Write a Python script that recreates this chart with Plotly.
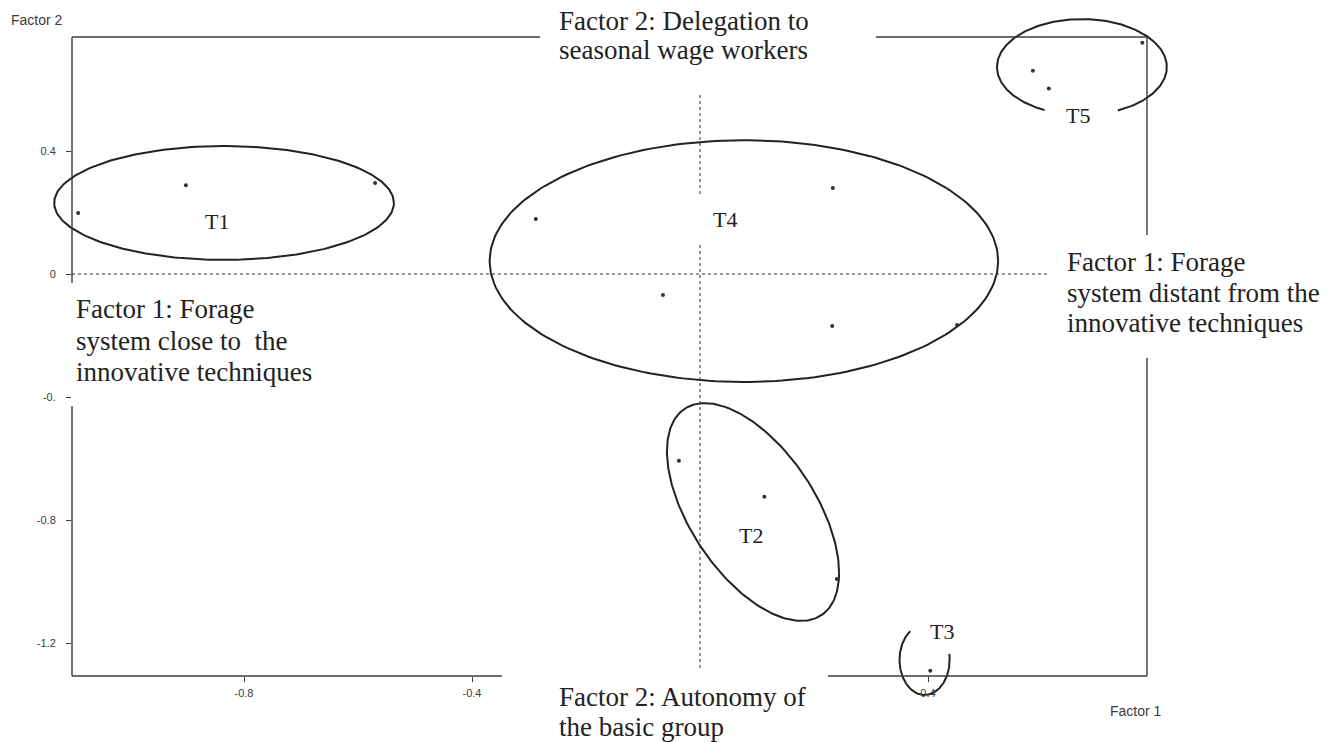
import numpy as np
import plotly.graph_objects as go

# factor scores of the farms (Factor 1, Factor 2), one pair of lists per type
t1_f1 = [-1.091, -0.902, -0.570]
t1_f2 = [0.198, 0.289, 0.296]
t2_f1 = [-0.037, 0.113, 0.240]
t2_f2 = [-0.607, -0.724, -0.992]
t3_f1 = [0.404]
t3_f2 = [-1.290]
t4_f1 = [-0.288, 0.233, -0.065, 0.232, 0.451]
t4_f2 = [0.179, 0.280, -0.068, -0.169, -0.166]
t5_f1 = [0.584, 0.612, 0.776]
t5_f2 = [0.661, 0.603, 0.752]

types = ["T1", "T2", "T3", "T4", "T5"]

# hand drawn envelopes round each type (centre, half widths, skew, arc in degrees)
env_cx = [-0.835, 0.093, 0.394, 0.077, 0.670]
env_cy = [0.231, -0.774, -1.255, 0.042, 0.673]
env_rx = [0.298, 0.151, 0.044, 0.446, 0.149]
env_ry = [0.185, 0.354, 0.114, 0.393, 0.156]
env_skew = [0, -34, 0, 0, 0]
env_from = [0, 0, 125, 0, -65]
env_to = [360, 360, 370, 360, 244]

# where the type names sit
label_f1 = [-0.847, 0.089, 0.425, 0.044, 0.663]
label_f2 = [0.172, -0.849, -1.161, 0.176, 0.514]

x_ticks = [-0.8, -0.4, 0.4]
x_ticktext = ["-0.8", "-0.4", "0.4"]
y_ticks = [0.4, 0, -0.4, -0.8, -1.2]
y_ticktext = ["0.4", "0", "-0.", "-0.8", "-1.2"]

top_caption = ["Factor 2: Delegation to", "seasonal wage workers"]
bottom_caption = ["Factor 2: Autonomy of", "the basic group"]
left_caption = ["Factor 1: Forage", "system close to  the", "innovative techniques"]
right_caption = ["Factor 1: Forage", "system distant from the", "innovative techniques"]

W, H = 1331, 742
X0_PX, X_SCALE = 700, 570      # pixel of Factor 1 = 0, pixels per unit
Y0_PX, Y_SCALE = 274, 307.5
LEFT, TOP, RIGHT, BOTTOM = 72, 37, 1147, 676

INK = "#222222"
AXIS = "#3c3c3c"
SERIF = "Liberation Serif, Times New Roman, serif"
SANS = "Liberation Sans, Arial, sans-serif"


def px_x(px):
    return (px - X0_PX) / X_SCALE


def px_y(py):
    return (Y0_PX - py) / Y_SCALE


def paper(px, py):
    return px / W, 1 - py / H


fig = go.Figure()

# envelopes on a full-page subplot so they can run past the frame
for i, t in enumerate(types):
    a = np.radians(np.linspace(env_from[i], env_to[i], 240))
    ex = env_cx[i] + env_rx[i] * np.cos(a)
    ey = env_cy[i] + env_ry[i] * np.sin(a + np.radians(env_skew[i]))
    fig.add_trace(go.Scatter(x=ex, y=ey, mode="lines", xaxis="x", yaxis="y",
                             line=dict(color=INK, width=2), hoverinfo="skip",
                             showlegend=False))

pts = [(t1_f1, t1_f2), (t2_f1, t2_f2), (t3_f1, t3_f2), (t4_f1, t4_f2), (t5_f1, t5_f2)]
for t, (fx, fy) in zip(types, pts):
    fig.add_trace(go.Scatter(x=fx, y=fy, mode="markers", name=t, xaxis="x2", yaxis="y2",
                             marker=dict(color="#333333", size=4), cliponaxis=False,
                             showlegend=False))

shapes = []
# frame, broken where the axis captions sit
frame = [
    (LEFT, TOP, 540, TOP), (876, TOP, RIGHT, TOP),
    (LEFT, BOTTOM, 502, BOTTOM), (828, BOTTOM, RIGHT, BOTTOM),
    (LEFT, TOP, LEFT, 283), (LEFT, 406, LEFT, BOTTOM),
    (RIGHT, TOP, RIGHT, 235), (RIGHT, 358, RIGHT, BOTTOM),
]
for x0, y0, x1, y1 in frame:
    (a0, b0), (a1, b1) = paper(x0, y0), paper(x1, y1)
    shapes.append(dict(type="line", xref="paper", yref="paper", x0=a0, y0=b0, x1=a1, y1=b1,
                       line=dict(color=AXIS, width=1.4)))

# dashed origin lines
dash = dict(color="#333333", width=1, dash="3px,3px")
shapes.append(dict(type="line", xref="x", yref="y", x0=px_x(LEFT), x1=px_x(1047), y0=0, y1=0, line=dash))
for y0, y1 in [(95, 195), (245, 670)]:
    shapes.append(dict(type="line", xref="x", yref="y", x0=0, x1=0, y0=px_y(y0), y1=px_y(y1), line=dash))

annotations = []
for t, lx, ly in zip(types, label_f1, label_f2):
    annotations.append(dict(x=lx, y=ly, xref="x", yref="y", text=t, showarrow=False,
                            xanchor="center", yanchor="middle",
                            font=dict(family=SERIF, size=22, color=INK)))

# captions set line by line (left edge, centre of each line) to keep the tight leading
captions = [
    (top_caption, 557, [21, 50]),
    (left_caption, 74, [309, 341, 372]),
    (right_caption, 1065, [262, 293, 323]),
    (bottom_caption, 557, [697, 727]),
]
for lines, px, rows in captions:
    for line, py in zip(lines, rows):
        ax, ay = paper(px, py)
        annotations.append(dict(x=ax, y=ay, xref="paper", yref="paper", text=line,
                                showarrow=False, xanchor="left", yanchor="middle",
                                font=dict(family=SERIF, size=27, color=INK)))

for text, px, py in [("Factor 2", 37, 20), ("Factor 1", 1136, 711)]:
    ax, ay = paper(px, py)
    annotations.append(dict(x=ax, y=ay, xref="paper", yref="paper", text=text, showarrow=False,
                            xanchor="center", yanchor="middle",
                            font=dict(family=SANS, size=14, color=AXIS)))

hidden = dict(visible=False, showgrid=False, zeroline=False)
tick_style = dict(showgrid=False, zeroline=False, showline=False, ticks="outside", ticklen=5,
                  tickcolor=AXIS, tickwidth=1, tickfont=dict(family=SANS, size=11, color=AXIS))

fig.update_layout(
    width=W, height=H,
    margin=dict(l=0, r=0, t=0, b=0),
    plot_bgcolor="rgba(0,0,0,0)", paper_bgcolor="white",
    xaxis=dict(domain=[0, 1], range=[px_x(0), px_x(W)], **hidden),
    yaxis=dict(domain=[0, 1], range=[px_y(H), px_y(0)], **hidden),
    xaxis2=dict(domain=[LEFT / W, RIGHT / W], range=[px_x(LEFT), px_x(RIGHT)], anchor="y2",
                tickvals=x_ticks, ticktext=x_ticktext, ticklabelstandoff=2, **tick_style),
    yaxis2=dict(domain=[1 - BOTTOM / H, 1 - TOP / H], range=[px_y(BOTTOM), px_y(TOP)], anchor="x2",
                tickvals=y_ticks, ticktext=y_ticktext, ticklabelstandoff=8, **tick_style),
    shapes=shapes,
    annotations=annotations,
)

# the page's default 8px body margin would push the figure off the window
fig.write_html("out.html", config={"displayModeBar": False},
               post_script="document.body.style.margin = '0';")
